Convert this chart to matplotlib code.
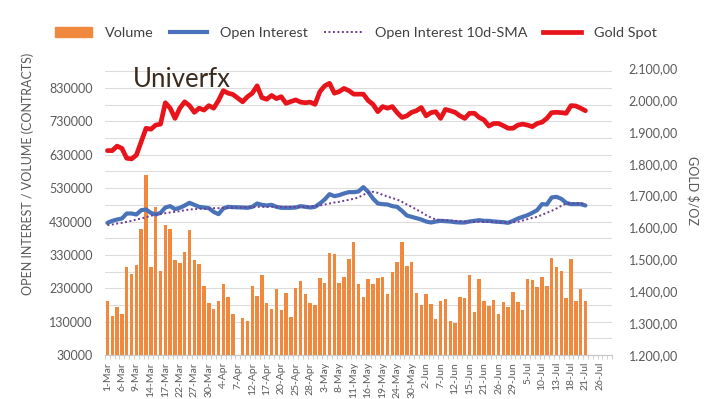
import numpy as np
import matplotlib.pyplot as plt
from matplotlib.patches import Patch
from matplotlib.lines import Line2D
from matplotlib.ticker import FuncFormatter

plt.rcParams['font.family'] = ['Lato', 'DejaVu Sans']

# trading days 1-Mar .. 28-Jul (holidays left out), label on every 3rd one
n_days = 105
tick_labels = ['1-Mar', '6-Mar', '9-Mar', '14-Mar', '17-Mar', '22-Mar', '27-Mar', '30-Mar',
               '4-Apr', '7-Apr', '12-Apr', '17-Apr', '20-Apr', '25-Apr', '28-Apr', '3-May',
               '8-May', '11-May', '16-May', '19-May', '24-May', '30-May', '2-Jun', '7-Jun',
               '12-Jun', '15-Jun', '21-Jun', '26-Jun', '29-Jun', '5-Jul', '10-Jul', '13-Jul',
               '18-Jul', '21-Jul', '26-Jul']

# thousands of contracts, None = no data (7-Apr)
volume = [192, 148, 174, 152, 293, 273, 299, 408, 569, 294,
          474, 282, 421, 409, 314, 305, 339, 406, 316, 304,
          236, 186, 167, 192, 243, 205, 154, None, 142, 132,
          236, 208, 270, 185, 167, 227, 164, 215, 145, 231,
          252, 214, 186, 180, 261, 246, 336, 332, 246, 264,
          317, 368, 242, 205, 258, 243, 261, 264, 213, 280,
          308, 368, 296, 308, 217, 180, 214, 183, 139, 192,
          198, 132, 127, 205, 201, 271, 160, 258, 192, 177,
          195, 154, 188, 173, 218, 189, 164, 259, 255, 234,
          265, 236, 321, 293, 281, 201, 318, 192, 227, 192]

open_interest = [426, 432, 436, 439, 454, 454, 451, 464, 466, 456,
                 451, 456, 472, 476, 467, 471, 478, 486, 480, 474,
                 472, 470, 459, 452, 469, 474, 473, None, 472, 471,
                 474, 484, 480, 478, 480, 474, 471, 471, 471, 472,
                 476, 474, 472, 474, 484, 496, 512, 506, 509, 514,
                 518, 518, 520, 533, 519, 499, 484, 482, 481, 476,
                 474, 462, 448, 444, 440, 436, 430, 427, 430, 432,
                 431, 430, 428, 427, 427, 430, 432, 434, 432, 432,
                 430, 429, 428, 426, 432, 439, 444, 449, 456, 464,
                 482, 481, 502, 504, 498, 486, 482, 482, 482, 478]

oi_sma = [419, 421, 424, 426, 429, 432, 436, 439, 443, 447,
          451, 453, 455, 457, 459, 461, 464, 466, 467, 468,
          468, 469, 470, 470, 471, 471, 471, None, 472, 473,
          473, 474, 474, 474, 474, 474, 474, 474, 474, 474,
          474, 474, 475, 476, 478, 481, 484, 487, 489, 492,
          495, 498, 502, 510, 516, 519, 516, 510, 505, 500,
          496, 489, 481, 474, 466, 458, 449, 442, 436, 435,
          434, 433, 432, 431, 430, 430, 429, 429, 429, 429,
          428, 428, 427, 428, 428, 429, 433, 437, 441, 444,
          450, 456, 462, 469, 477, 484, 484, 484, 484, 484]

gold = [1841, 1841, 1855, 1848, 1817, 1815, 1827, 1869, 1911, 1908,
        1921, 1924, 1991, 1974, 1942, 1974, 1994, 1982, 1961, 1974,
        1968, 1982, 1974, 1998, 2029, 2021, 2017, None, 1994, 2010,
        2021, 2044, 2007, 2002, 2014, 2004, 2010, 1989, 1995, 2000,
        1993, 1991, 1993, 1986, 2026, 2044, 2052, 2021, 2026, 2036,
        2029, 2018, 2018, 2018, 1998, 1986, 1963, 1979, 1974, 1979,
        1960, 1945, 1950, 1961, 1966, 1976, 1950, 1960, 1963, 1942,
        1970, 1966, 1961, 1950, 1942, 1958, 1958, 1945, 1937, 1918,
        1926, 1926, 1919, 1911, 1911, 1921, 1924, 1921, 1916, 1926,
        1930, 1942, 1960, 1961, 1960, 1958, 1982, 1981, 1974, 1966]


def to_arr(vals, scale=1.0):
    return np.array([np.nan if v is None else v * scale for v in vals], dtype=float)


c_vol = '#f0883e'
c_oi = '#4a72b8'
c_sma = '#6a3d9a'
c_gold = '#e8141b'
c_txt = '#595959'

vol = to_arr(volume, 1000)
oi = to_arr(open_interest, 1000)
sma = to_arr(oi_sma, 1000)
gs = to_arr(gold)
x = np.arange(len(vol))

fig = plt.figure(figsize=(7.2, 3.99), dpi=100)
ax = fig.add_axes([105 / 720, 44 / 399, 507 / 720, 287 / 399])
ax2 = ax.twinx()

ax.bar(x, vol, width=0.72, color=c_vol, zorder=2)
m = ~np.isnan(oi)
ax.plot(x[m], oi[m], color=c_oi, lw=3, solid_capstyle='round', zorder=3)
m = ~np.isnan(sma)
ax.plot(x[m], sma[m], color=c_sma, lw=1.4, linestyle=(0, (1, 1.3)), zorder=4)
m = ~np.isnan(gs)
ax2.plot(x[m], gs[m], color=c_gold, lw=3.4, solid_capstyle='round')

ax.set_xlim(-0.5, n_days - 0.5)
ax.set_ylim(30000, 890000)
ax.set_yticks(np.arange(30000, 830001, 100000))
ax.set_yticks(np.arange(80000, 890000, 100000), minor=True)
ax.yaxis.set_major_formatter(FuncFormatter(lambda v, p: f'{int(v)}'))
ax.grid(which='both', axis='y', color='#dcdcdc', lw=0.8)
ax.set_axisbelow(True)

ax2.set_ylim(1200, 2100)
ax2.set_yticks(np.arange(1200, 2101, 100))
ax2.yaxis.set_major_formatter(FuncFormatter(
    lambda v, p: f'{v:,.2f}'.replace(',', ' ').replace('.', ',').replace(' ', '.')))

ax.set_xticks(np.arange(0, n_days, 3))
ax.set_xticklabels(tick_labels, rotation=90, fontsize=7.5, color=c_txt)
ax.set_xticks(np.arange(-0.5, n_days, 1), minor=True)
ax.tick_params(axis='x', which='major', length=0, pad=5)
ax.tick_params(axis='x', which='minor', length=3, color='#c8c8c8')
ax.tick_params(axis='y', which='both', length=0, pad=9, labelsize=9, labelcolor=c_txt)
ax2.tick_params(axis='y', length=0, pad=12, labelsize=9, labelcolor=c_txt)

for a in (ax, ax2):
    for s in ['top', 'left', 'right']:
        a.spines[s].set_visible(False)
    a.spines['bottom'].set_color('#c8c8c8')

fig.text(28 / 720, 1 - 174 / 399, 'OPEN INTEREST / VOLUME (CONTRACTS)', rotation=90,
         ha='center', va='center', fontsize=9, color=c_txt)
fig.text(693 / 720, 1 - 190 / 399, 'GOLD $/OZ', rotation=270,
         ha='center', va='center', fontsize=9, color=c_txt)
fig.text(133 / 720, 1 - 87 / 399, 'Univerfx', fontsize=18.5, color='#3b2a1e', va='baseline')

handles = [Patch(color=c_vol),
           Line2D([], [], color=c_oi, lw=3),
           Line2D([], [], color=c_sma, lw=1.4, linestyle=(0, (1, 1.3))),
           Line2D([], [], color=c_gold, lw=3.4)]
names = ['Volume', 'Open Interest', 'Open Interest 10d-SMA', 'Gold Spot']
fig.legend(handles, names, loc='center', bbox_to_anchor=(0.494, 1 - 33 / 399), ncol=4,
           frameon=False, fontsize=10.4, handlelength=2.6, handletextpad=0.9,
           columnspacing=1.1, labelcolor='#404040')

fig.savefig('out.png', dpi=100)
